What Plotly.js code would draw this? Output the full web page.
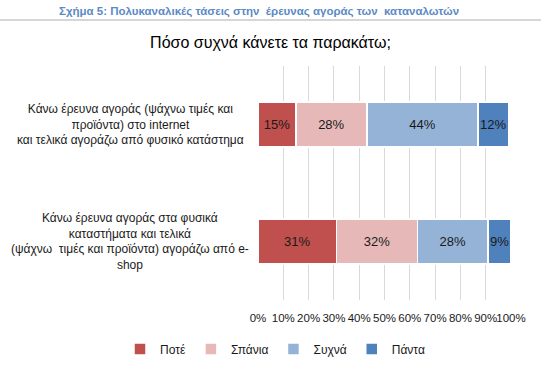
<!DOCTYPE html>
<html>
<head>
<meta charset="utf-8">
<script src="https://cdn.plot.ly/plotly-3.0.1.min.js"></script>
<style>html,body{margin:0;padding:0;background:#fff;}#chart{width:541px;height:370px;}</style>
</head>
<body>
<div id="chart"></div>
<script>
const categories = [
  "Κάνω έρευνα αγοράς (ψάχνω τιμές και<br>προϊόντα) στο internet<br>και τελικά αγοράζω από φυσικό κατάστημα",
  "Κάνω έρευνα αγοράς στα φυσικά<br>καταστήματα και τελικά<br>(ψάχνω  τιμές και προϊόντα) αγοράζω από e-<br>shop"
];
const seriesNames = ["Ποτέ", "Σπάνια", "Συχνά", "Πάντα"];
const pote = [15, 31];
const spania = [28, 32];
const sychna = [44, 28];
const panta = [12, 9];
const colors = ["#C0504D", "#E6B9B8", "#95B3D7", "#4F81BD"];
const xTickVals = [0, 10, 20, 30, 40, 50, 60, 70, 80, 90, 100];
const xTickText = ["0%", "10%", "20%", "30%", "40%", "50%", "60%", "70%", "80%", "90%", "100%"];
const title = "Πόσο συχνά κάνετε τα παρακάτω;";
const caption = "Σχήμα 5: Πολυκαναλικές τάσεις στην  έρευνας αγοράς των  καταναλωτών";

const font = "Liberation Sans, Arial, sans-serif";
const values = [pote, spania, sychna, panta];
const traces = values.map((v, i) => ({
  type: "bar",
  orientation: "h",
  name: seriesNames[i],
  x: v,
  y: categories,
  marker: {color: colors[i], line: {color: "#ffffff", width: 1.5}},
  text: v.map(d => d + "%"),
  textposition: "inside",
  insidetextanchor: "middle",
  textangle: 0,
  constraintext: "none",
  textfont: {family: font, size: 13, color: "#1a1a1a"},
  hoverinfo: "none"
}));

// plot area: left 258px, width 253px, top 66px, height 234px
const pxLeft = 258, pW = 253, pyTop = 66, pH = 234;
const paperY = px => 1 + (pyTop - px) / pH;
const paperX = px => (px - pxLeft) / pW;

const annotations = categories.map(c => ({
  text: c,
  x: paperX(130), xref: "paper", xanchor: "center",
  y: c, yref: "y", yanchor: "middle",
  showarrow: false, align: "center",
  font: {family: font, size: 12, color: "#1a1a1a"}
}));
annotations.push({
  text: "<b>" + caption + "</b>",
  x: 0.5, xref: "container", xanchor: "center",
  y: paperY(12), yref: "paper", yanchor: "middle",
  showarrow: false,
  font: {family: font, size: 11.5, color: "#5B8AC5"}
});

const layout = {
  width: 541, height: 370,
  margin: {l: 258, r: 30, t: 66, b: 70, autoexpand: false},
  paper_bgcolor: "#ffffff", plot_bgcolor: "#ffffff",
  barmode: "stack",
  bargap: 0.615,
  showlegend: true,
  legend: {orientation: "h", x: paperX(120), xref: "paper", xanchor: "left",
           y: paperY(349), yref: "paper", yanchor: "middle",
           itemwidth: 30,
           font: {family: font, size: 12, color: "#1a1a1a"}, traceorder: "normal"},
  title: {text: title, x: 0.5, xref: "container", xanchor: "center", y: 1 - 42 / 370, yref: "container",
          yanchor: "middle", font: {family: font, size: 16, color: "#000000"}},
  xaxis: {range: [0, 100], tickvals: xTickVals, ticktext: xTickText, tickangle: 0, ticklabelstandoff: 9,
          showgrid: true, gridcolor: "#d9d9d9",
          gridwidth: 1, zeroline: false, showline: false, ticks: "", automargin: false,
          tickfont: {family: font, size: 11.5, color: "#1a1a1a"}, fixedrange: true},
  yaxis: {categoryorder: "array", categoryarray: categories, autorange: "reversed", automargin: false,
          showticklabels: false, showgrid: false, zeroline: false, showline: false, ticks: ""},
  annotations: annotations,
  shapes: [{type: "line", xref: "paper", yref: "paper", x0: paperX(0), x1: paperX(541), y0: paperY(20), y1: paperY(20),
            line: {color: "#c8c8c8", width: 1.5}, layer: "above"}]
};

Plotly.newPlot("chart", traces, layout, {staticPlot: true, displayModeBar: false});
</script>
</body>
</html>
